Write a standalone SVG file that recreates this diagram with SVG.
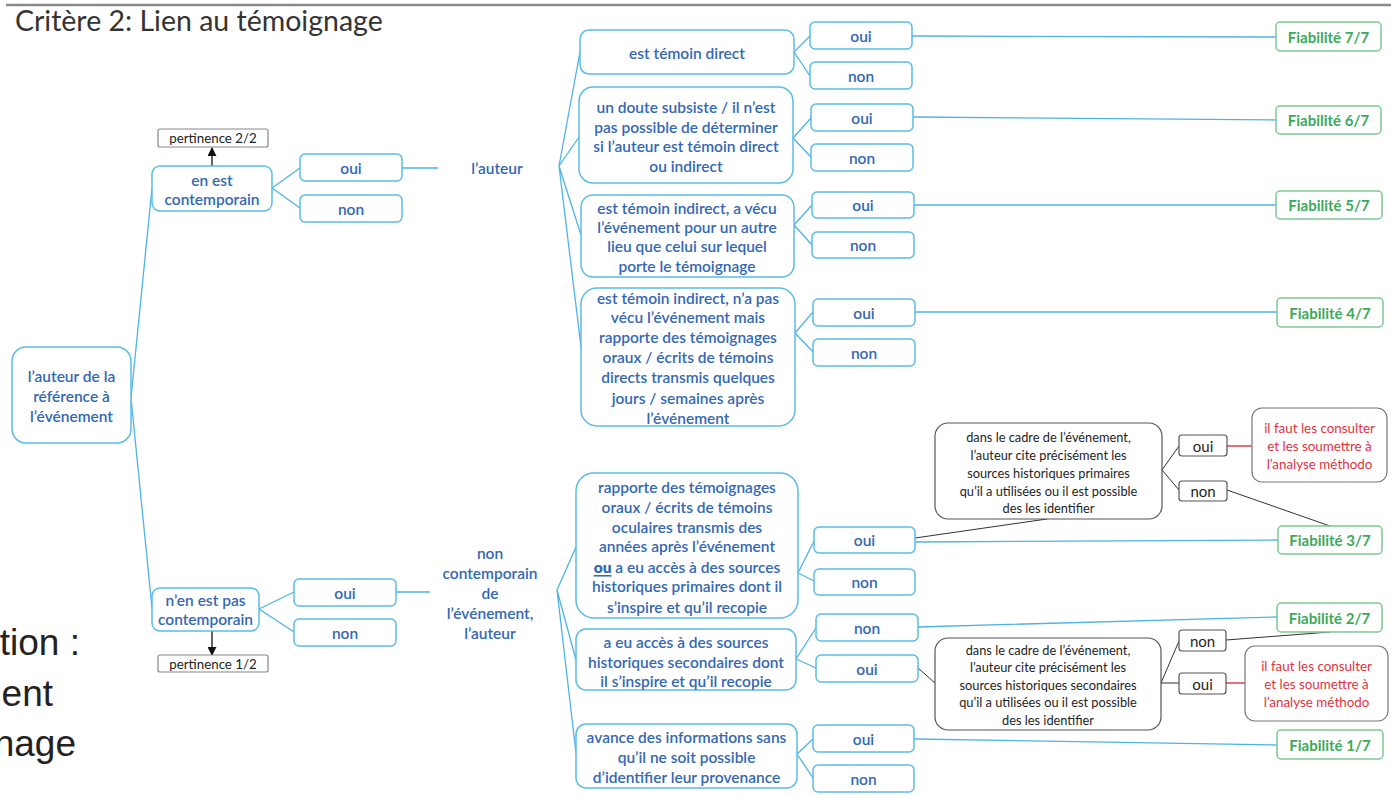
<svg xmlns="http://www.w3.org/2000/svg" width="1391" height="795" viewBox="0 0 1391 795">
<defs>
<style>
.bx{fill:#fff;stroke:#5BBCE9;stroke-width:1.5}
.bt{font-family:Lato,"Open Sans","Liberation Sans",sans-serif;font-size:15.5px;font-weight:600;fill:#3468B4;text-anchor:middle;dominant-baseline:central}
.gb{fill:#fff;stroke:#7CC894;stroke-width:1.5}
.gt{font-family:Lato,"Open Sans","Liberation Sans",sans-serif;font-size:15px;font-weight:700;fill:#3DA95A;text-anchor:middle;dominant-baseline:central}
.kb{fill:#fff;stroke:#555;stroke-width:1.2}
.kt{font-family:Lato,"Open Sans","Liberation Sans",sans-serif;font-size:12.8px;fill:#1e1e1e;text-anchor:middle;dominant-baseline:central}
.ko{font-size:15px}
.rb{fill:#fff;stroke:#777;stroke-width:1.2}
.rt{font-family:Lato,"Open Sans","Liberation Sans",sans-serif;font-size:13.4px;fill:#E2333F;text-anchor:middle;dominant-baseline:central}
.pb{fill:#fff;stroke:#888;stroke-width:1.2}
.pt{font-family:Lato,"Open Sans","Liberation Sans",sans-serif;font-size:13.3px;fill:#222;text-anchor:middle;dominant-baseline:central}
.cb{fill:none;stroke:#4EB3E6;stroke-width:1.3}
.ck{fill:none;stroke:#333;stroke-width:1}
.cr{fill:none;stroke:#E04050;stroke-width:1.3}
.big{font-family:"Liberation Sans",Arial,sans-serif;font-size:37px;fill:#222;text-anchor:end}
</style>
<marker id="ah" viewBox="0 0 10 10" refX="9" refY="5" markerWidth="9" markerHeight="9" markerUnits="userSpaceOnUse" orient="auto"><path d="M0,0 L10,5 L0,10 z" fill="#111"/></marker>
</defs>
<rect width="1391" height="795" fill="#fff"/>
<line x1="6" y1="5" x2="1391" y2="5" stroke="#8a8a8a" stroke-width="2.5"/>
<text x="15" y="31" font-family="Lato,'Open Sans','Liberation Sans',sans-serif" font-size="28.5" fill="#333">Critère 2: Lien au témoignage</text>
<text class="big" x="80" y="655">tion :</text>
<text class="big" x="53" y="706">ent</text>
<text class="big" x="76" y="756">nage</text>

<g id="connectors">
<path class="cb" d="M131,398 L152,188 M131,398 L152,608"/>
<path class="cb" d="M272,188 L300,168 M272,188 L300,208 M402,168 L438,168"/>
<path class="cb" d="M259,609 L294,592 M259,609 L294,632 M396,592 L430,592"/>
<path class="cb" d="M559,166 L580,52 M559,166 L579,137 M559,166 L581,235 M559,166 L581,347"/>
<path class="cb" d="M794,52 L810,36 M794,52 L810,76 M793,138 L811,118 M793,138 L811,157 M794,225 L812,205 M794,225 L812,245 M795,333 L813,312 M795,333 L813,352"/>
<path class="cb" d="M912,36 L1276,37 M913,117 L1276,120 M914,205 L1276,205 M915,312 L1277,312"/>
<path class="cb" d="M557,590 L576,547 M557,590 L576,660 M557,590 L576,753"/>
<path class="cb" d="M798,573 L814,541 M798,573 L814,581 M796,659 L816,628 M796,659 L816,668 M797,754 L813,739 M797,754 L813,778"/>
<path class="cb" d="M915,542 L1278,540 M918,627 L1277,617 M914,739 L1277,745"/>
<path class="ck" d="M915,538 L1047,519 M1162,470 L1179,446 M1162,470 L1179,490 M1227,490 L1330,526"/>
<path class="ck" d="M918,668 L935,683 M1161,683 L1179,641 M1161,683 L1179,683 M1226,640 L1330,632"/>
<path class="cr" d="M1227,446 L1252,446 M1226,683 L1245,683"/>
<line x1="212" y1="166" x2="212" y2="148" stroke="#111" stroke-width="1.3" marker-end="url(#ah)"/>
<line x1="212" y1="631" x2="212" y2="655" stroke="#111" stroke-width="1.3" marker-end="url(#ah)"/>
</g>

<g id="root"><rect class="bx" x="12" y="347" width="119" height="96" rx="14"/>
<text class="bt" x="71.5" y="376">l’auteur de la</text><text class="bt" x="71.5" y="396">référence à</text><text class="bt" x="71.5" y="416">l’événement</text></g>

<g id="contemp"><rect class="bx" x="152" y="166" width="120" height="45" rx="8"/>
<text class="bt" x="212" y="180">en est</text><text class="bt" x="212" y="199">contemporain</text></g>
<g id="pert22"><rect class="pb" x="158" y="129" width="110" height="18" rx="2"/><text class="pt" x="213" y="138">pertinence 2/2</text></g>
<g id="oui1"><rect class="bx" x="300" y="154" width="102" height="27" rx="5"/><text class="bt" x="351" y="167.5">oui</text></g>
<g id="non1"><rect class="bx" x="300" y="195" width="102" height="27" rx="5"/><text class="bt" x="351" y="208.5">non</text></g>
<g id="auteur1"><text class="bt" x="497" y="168">l’auteur</text></g>

<g id="noncontemp"><rect class="bx" x="152" y="588" width="107" height="43" rx="8"/>
<text class="bt" x="205.5" y="600">n’en est pas</text><text class="bt" x="205.5" y="619">contemporain</text></g>
<g id="pert12"><rect class="pb" x="158" y="655" width="110" height="17" rx="2"/><text class="pt" x="213" y="663.5">pertinence 1/2</text></g>
<g id="oui2"><rect class="bx" x="294" y="579" width="102" height="27" rx="5"/><text class="bt" x="345" y="592.5">oui</text></g>
<g id="non2"><rect class="bx" x="294" y="619" width="102" height="27" rx="5"/><text class="bt" x="345" y="632.5">non</text></g>
<g id="auteur2"><text class="bt" x="490" y="553">non</text><text class="bt" x="490" y="573">contemporain</text><text class="bt" x="490" y="593">de</text><text class="bt" x="490" y="613">l’événement,</text><text class="bt" x="490" y="633">l’auteur</text></g>

<g id="A"><rect class="bx" x="580" y="30" width="214" height="44" rx="9"/><text class="bt" x="687" y="53">est témoin direct</text></g>
<g id="Aoui"><rect class="bx" x="810" y="22" width="102" height="27" rx="5"/><text class="bt" x="861" y="35.5">oui</text></g>
<g id="Anon"><rect class="bx" x="810" y="62" width="102" height="27" rx="5"/><text class="bt" x="861" y="75.5">non</text></g>

<g id="B"><rect class="bx" x="579" y="87" width="214" height="96" rx="14"/>
<text class="bt" x="686" y="107">un doute subsiste / il n’est</text><text class="bt" x="686" y="127">pas possible de déterminer</text><text class="bt" x="686" y="146">si l’auteur est témoin direct</text><text class="bt" x="686" y="166">ou indirect</text></g>
<g id="Boui"><rect class="bx" x="811" y="104" width="102" height="27" rx="5"/><text class="bt" x="862" y="117.5">oui</text></g>
<g id="Bnon"><rect class="bx" x="811" y="144" width="102" height="27" rx="5"/><text class="bt" x="862" y="157.5">non</text></g>

<g id="C"><rect class="bx" x="581" y="195" width="213" height="82" rx="12"/>
<text class="bt" x="687" y="208">est témoin indirect, a vécu</text><text class="bt" x="687" y="227">l’événement pour un autre</text><text class="bt" x="687" y="246">lieu que celui sur lequel</text><text class="bt" x="687" y="266">porte le témoignage</text></g>
<g id="Coui"><rect class="bx" x="812" y="192" width="102" height="26" rx="5"/><text class="bt" x="863" y="205">oui</text></g>
<g id="Cnon"><rect class="bx" x="812" y="232" width="102" height="26" rx="5"/><text class="bt" x="863" y="245">non</text></g>

<g id="D"><rect class="bx" x="581" y="288" width="214" height="138" rx="16"/>
<text class="bt" x="688" y="298">est témoin indirect, n’a pas</text><text class="bt" x="688" y="317">vécu l’événement mais</text><text class="bt" x="688" y="337">rapporte des témoignages</text><text class="bt" x="688" y="357">oraux / écrits de témoins</text><text class="bt" x="688" y="377">directs transmis quelques</text><text class="bt" x="688" y="398">jours / semaines après</text><text class="bt" x="688" y="418">l’événement</text></g>
<g id="Doui"><rect class="bx" x="813" y="299" width="102" height="27" rx="5"/><text class="bt" x="864" y="312.5">oui</text></g>
<g id="Dnon"><rect class="bx" x="813" y="339" width="102" height="27" rx="5"/><text class="bt" x="864" y="352.5">non</text></g>

<g id="F7"><rect class="gb" x="1276" y="22" width="105" height="29" rx="4"/><text class="gt" x="1328.5" y="36.5">Fiabilité 7/7</text></g>
<g id="F6"><rect class="gb" x="1276" y="106" width="105" height="28" rx="4"/><text class="gt" x="1328.5" y="120">Fiabilité 6/7</text></g>
<g id="F5"><rect class="gb" x="1276" y="191" width="106" height="28" rx="4"/><text class="gt" x="1329" y="205">Fiabilité 5/7</text></g>
<g id="F4"><rect class="gb" x="1277" y="298" width="106" height="29" rx="4"/><text class="gt" x="1330" y="312.5">Fiabilité 4/7</text></g>
<g id="F3"><rect class="gb" x="1278" y="526" width="104" height="28" rx="4"/><text class="gt" x="1330" y="540">Fiabilité 3/7</text></g>
<g id="F2"><rect class="gb" x="1277" y="603" width="105" height="29" rx="4"/><text class="gt" x="1329.5" y="617.5">Fiabilité 2/7</text></g>
<g id="F1"><rect class="gb" x="1277" y="730" width="106" height="29" rx="4"/><text class="gt" x="1330" y="744.5">Fiabilité 1/7</text></g>

<g id="E"><rect class="bx" x="576" y="473" width="222" height="145" rx="18"/>
<text class="bt" x="687" y="487">rapporte des témoignages</text><text class="bt" x="687" y="507">oraux / écrits de témoins</text><text class="bt" x="687" y="527">oculaires transmis des</text><text class="bt" x="687" y="546">années après l’événement</text><text class="bt" x="687" y="567"><tspan font-weight="800" text-decoration="underline">ou</tspan> a eu accès à des sources</text><text class="bt" x="687" y="586">historiques primaires dont il</text><text class="bt" x="687" y="607">s’inspire et qu’il recopie</text></g>
<g id="Eoui"><rect class="bx" x="814" y="527" width="101" height="26" rx="5"/><text class="bt" x="864.5" y="540">oui</text></g>
<g id="Enon"><rect class="bx" x="814" y="569" width="101" height="26" rx="5"/><text class="bt" x="864.5" y="582">non</text></g>

<g id="H"><rect class="kb" x="935" y="423" width="227" height="96" rx="13"/>
<text class="kt" x="1048.5" y="437">dans le cadre de l’événement,</text><text class="kt" x="1048.5" y="455">l’auteur cite précisément les</text><text class="kt" x="1048.5" y="473">sources historiques primaires</text><text class="kt" x="1048.5" y="491">qu’il a utilisées ou il est possible</text><text class="kt" x="1048.5" y="508">des les identifier</text></g>
<g id="Houi"><rect class="kb" x="1179" y="435" width="48" height="21" rx="3"/><text class="kt ko" x="1203" y="445.5">oui</text></g>
<g id="Hnon"><rect class="kb" x="1179" y="481" width="48" height="20" rx="3"/><text class="kt ko" x="1203" y="491">non</text></g>
<g id="I"><rect class="rb" x="1252" y="408" width="135" height="74" rx="10"/>
<text class="rt" x="1319.5" y="428">il faut les consulter</text><text class="rt" x="1319.5" y="446">et les soumettre à</text><text class="rt" x="1319.5" y="464">l’analyse méthodo</text></g>

<g id="F"><rect class="bx" x="576" y="629" width="220" height="61" rx="10"/>
<text class="bt" x="686" y="642">a eu accès à des sources</text><text class="bt" x="686" y="662">historiques secondaires dont</text><text class="bt" x="686" y="681">il s’inspire et qu’il recopie</text></g>
<g id="Fnon"><rect class="bx" x="816" y="614" width="102" height="27" rx="5"/><text class="bt" x="867" y="627.5">non</text></g>
<g id="Foui"><rect class="bx" x="816" y="655" width="102" height="27" rx="5"/><text class="bt" x="867" y="668.5">oui</text></g>
<g id="J"><rect class="kb" x="935" y="638" width="226" height="92" rx="13"/>
<text class="kt" x="1048" y="650">dans le cadre de l’événement,</text><text class="kt" x="1048" y="667">l’auteur cite précisément les</text><text class="kt" x="1048" y="685">sources historiques secondaires</text><text class="kt" x="1048" y="702">qu’il a utilisées ou il est possible</text><text class="kt" x="1048" y="720">des les identifier</text></g>
<g id="Jnon"><rect class="kb" x="1179" y="630" width="47" height="21" rx="3"/><text class="kt ko" x="1202.5" y="640.5">non</text></g>
<g id="Joui"><rect class="kb" x="1179" y="673" width="47" height="21" rx="3"/><text class="kt ko" x="1202.5" y="683.5">oui</text></g>
<g id="K"><rect class="rb" x="1245" y="646" width="143" height="75" rx="10"/>
<text class="rt" x="1316.5" y="666">il faut les consulter</text><text class="rt" x="1316.5" y="684">et les soumettre à</text><text class="rt" x="1316.5" y="702">l’analyse méthodo</text></g>

<g id="G"><rect class="bx" x="576" y="724" width="221" height="64" rx="10"/>
<text class="bt" x="686.5" y="737">avance des informations sans</text><text class="bt" x="686.5" y="757">qu’il ne soit possible</text><text class="bt" x="686.5" y="777">d’identifier leur provenance</text></g>
<g id="Goui"><rect class="bx" x="813" y="725" width="101" height="27" rx="5"/><text class="bt" x="863.5" y="738.5">oui</text></g>
<g id="Gnon"><rect class="bx" x="813" y="765" width="101" height="27" rx="5"/><text class="bt" x="863.5" y="778.5">non</text></g>
</svg>
